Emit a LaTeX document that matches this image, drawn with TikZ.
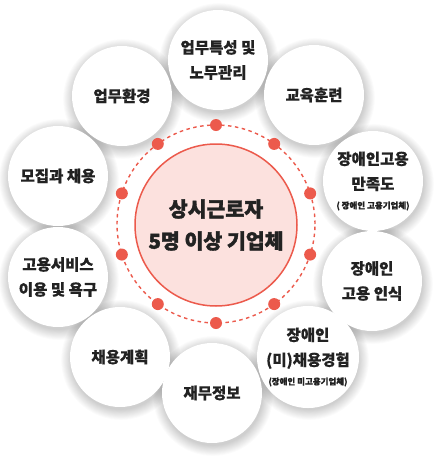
\documentclass[tikz,border=0pt]{standalone}
\usepackage{fontspec}
\setmainfont{Noto Sans CJK KR}[BoldFeatures={FakeBold=0.6}]
\newfontfamily\hubfont{Noto Sans CJK KR}[BoldFeatures={FakeBold=1.8}]
\definecolor{accent}{HTML}{EC5A4C}
\definecolor{pinkfill}{HTML}{FCE1DE}
\definecolor{txt}{HTML}{222222}
\tikzset{
  outer/.style={circle, fill=white, minimum size=100pt, inner sep=0pt, align=center,
    text=txt, font=\bfseries\fontsize{15.5}{25}\selectfont},
  hub/.style={circle, fill=pinkfill, draw=accent, line width=1.5pt, minimum size=162pt,
    inner sep=0pt, align=center, text=txt, font=\hubfont\bfseries\fontsize{20.5}{32}\selectfont},
  dot/.style={circle, fill=accent, minimum size=12pt, inner sep=0pt},
  ring/.style={draw=accent, line width=1.4pt, dash pattern=on 3.5pt off 3.5pt}
}
\newcommand{\sm}[1]{{\fontsize{8.5}{10}\selectfont #1}}
\begin{document}
\begin{tikzpicture}[x=1pt,y=-1pt]
\fill[white] (0,0) rectangle (440,461);
\useasboundingbox (0,0) rectangle (440,461);
% outer positions
\coordinate (c1) at (218,60);
\coordinate (c2) at (314,95);
\coordinate (c3) at (373,181);
\coordinate (c4) at (372,281);
\coordinate (c5) at (308,357);
\coordinate (c6) at (212,393);
\coordinate (c7) at (120,357);
\coordinate (c8) at (58,277);
\coordinate (c9) at (58,176);
\coordinate (c10) at (122,96);
% soft shadows
\foreach \i in {1,...,10}{
  \foreach \k in {1,...,12}{
    \fill[black, opacity=0.016] ([shift={(1,3)}]c\i) circle ({49pt+\k*0.9pt});
  }
}
% dashed ring and hub
\coordinate (ctr) at (216,224);
\draw[ring] (ctr) circle (99pt);
\node[hub] (hub) at (216,225) {상시근로자\\5명 이상 기업체};
\foreach \a [count=\j] in {90,54,18,-18,-54,-90,-126,-162,162,126}{
  \node[dot] (d\j) at ([shift={(\a:99pt)}]ctr) {};
}
% outer nodes
\node[outer] (n1) at (c1) {업무특성 및\\노무관리};
\node[outer] (n2) at (c2) {교육훈련};
\node[outer] (n3) at (c3) {장애인고용\\만족도\\[-6pt]\sm{( 장애인 고용기업체)}};
\node[outer] (n4) at (c4) {장애인\\고용 인식};
\node[outer] (n5) at (c5) {장애인\\(미)채용경험\\[-6pt]\sm{(장애인 미고용기업체)}};
\node[outer] (n6) at (c6) {재무정보};
\node[outer] (n7) at (c7) {채용계획};
\node[outer] (n8) at (c8) {고용서비스\\이용 및 욕구};
\node[outer] (n9) at (c9) {모집과 채용};
\node[outer] (n10) at (c10) {업무환경};
\end{tikzpicture}
\end{document}
